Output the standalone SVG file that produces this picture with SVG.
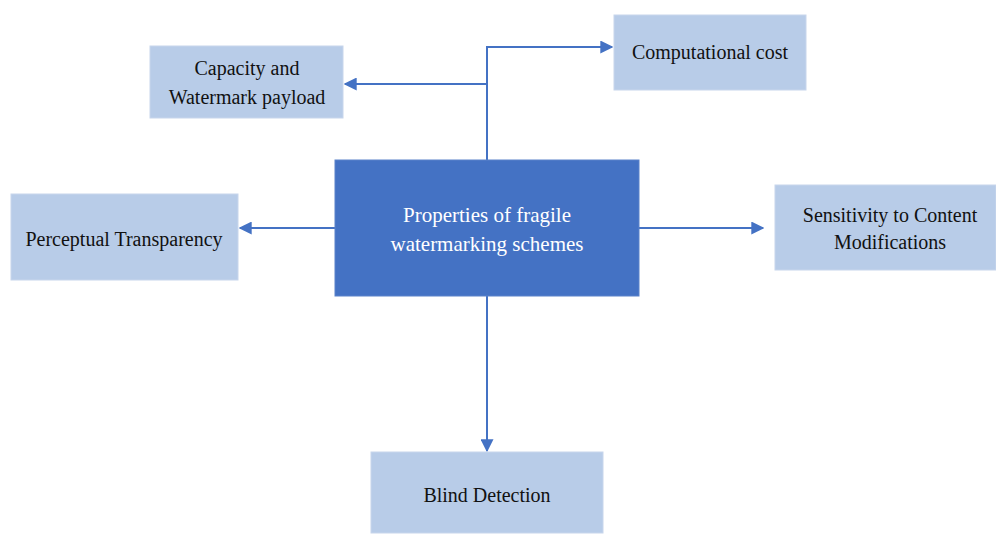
<svg xmlns="http://www.w3.org/2000/svg" width="996" height="534" viewBox="0 0 996 534">
<style>
.box{fill:#B8CCE8;stroke:#C8D6EC;stroke-width:1}
.main{fill:#4472C4;stroke:#5A82CA;stroke-width:1}
.t{font-family:"Liberation Serif","Times New Roman",serif;font-size:20px;fill:#111;text-anchor:middle}
.tw{font-family:"Liberation Serif","Times New Roman",serif;font-size:21px;fill:#fff;text-anchor:middle}
.c{fill:none;stroke:#4472C4;stroke-width:2}
</style>
<defs>
<marker id="ah" viewBox="0 0 10 10" refX="9" refY="5" markerWidth="13" markerHeight="13" markerUnits="userSpaceOnUse" orient="auto">
<path d="M0,0 L10,5 L0,10 z" fill="#4472C4"/>
</marker>
</defs>
<rect width="996" height="534" fill="#fff"/>
<g id="connectors">
<path class="c" d="M487,160 V47 H612" marker-end="url(#ah)"/>
<path class="c" d="M487,84 H345" marker-end="url(#ah)"/>
<path class="c" d="M335,228 H240" marker-end="url(#ah)"/>
<path class="c" d="M639,228 H763" marker-end="url(#ah)"/>
<path class="c" d="M487,296 V451" marker-end="url(#ah)"/>
</g>
<g id="capacity">
<rect class="box" x="150" y="46" width="193" height="72"/>
<text class="t" x="247" y="75">Capacity and</text>
<text class="t" x="247" y="104">Watermark payload</text>
</g>
<g id="computational">
<rect class="box" x="614" y="15" width="192" height="75"/>
<text class="t" x="710" y="59">Computational cost</text>
</g>
<g id="center">
<rect class="main" x="335" y="160" width="304" height="136"/>
<text class="tw" x="487" y="222">Properties of fragile</text>
<text class="tw" x="487" y="251">watermarking schemes</text>
</g>
<g id="perceptual">
<rect class="box" x="11" y="194" width="227" height="86"/>
<text class="t" x="124" y="246">Perceptual Transparency</text>
</g>
<g id="sensitivity">
<rect class="box" x="775" y="185" width="221" height="85"/>
<text class="t" x="890" y="222">Sensitivity to Content</text>
<text class="t" x="890" y="249">Modifications</text>
</g>
<g id="blind">
<rect class="box" x="371" y="452" width="232" height="81"/>
<text class="t" x="487" y="502">Blind Detection</text>
</g>
</svg>
